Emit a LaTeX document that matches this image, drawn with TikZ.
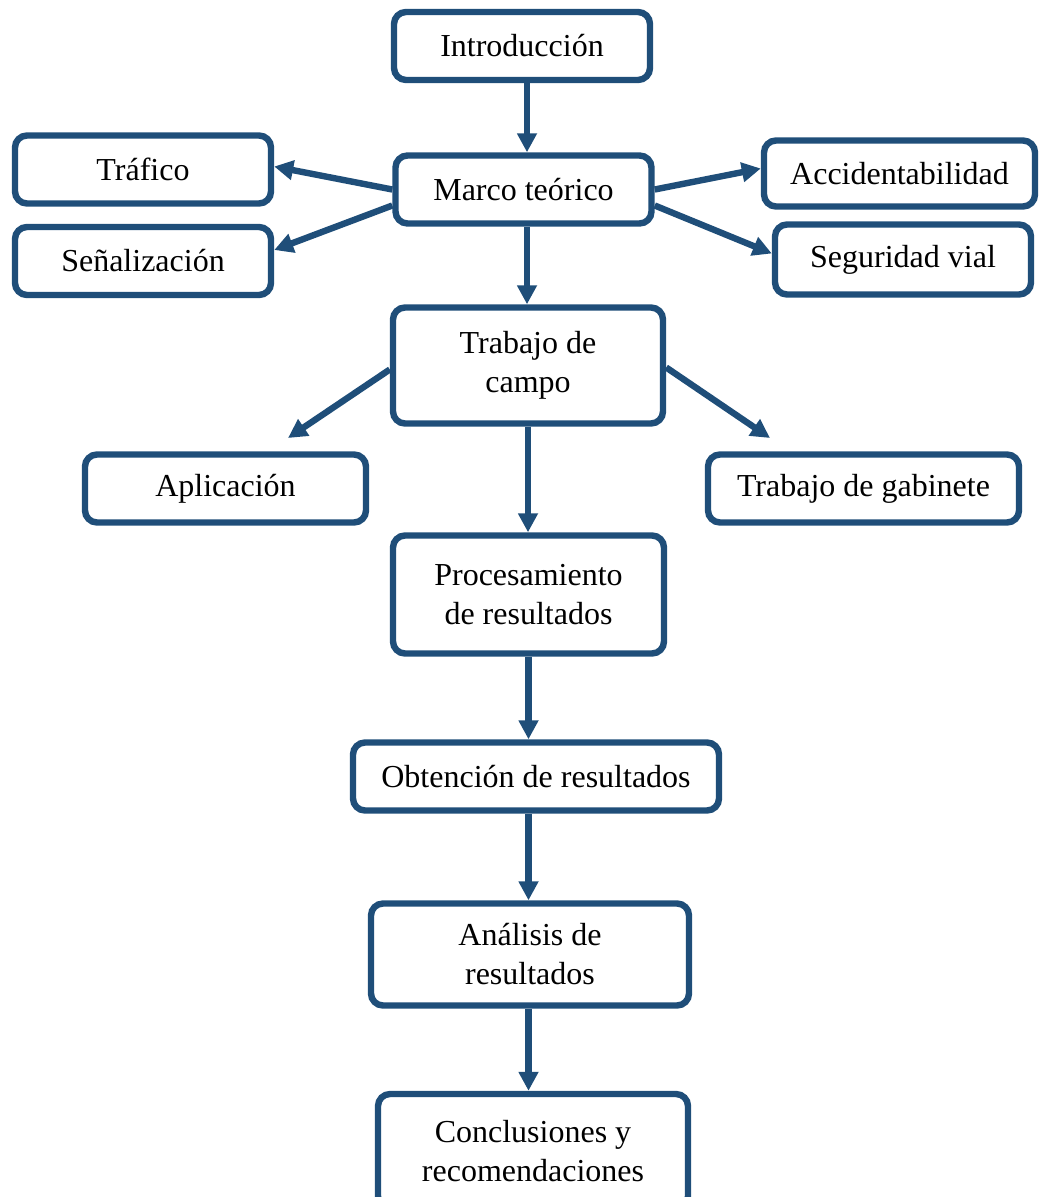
\documentclass[tikz,border=0pt]{standalone}
\usepackage{fontspec}
\setmainfont{Liberation Serif}
\usepackage{xcolor}
\usetikzlibrary{arrows.meta}
\definecolor{boxblue}{RGB}{31,78,121}

\begin{document}
\begin{tikzpicture}[
	  x=0.5pt, y=-0.5pt,
	  %style for arrows
	  arrw/.style={line width=3.2pt, draw=boxblue, -{Triangle[length=9.5pt,width=9.5pt]}},
      % style for boxes
      box/.style={rectangle, rounded corners=6pt, line width=3.2pt, draw=boxblue, fill=white,
                  minimum width=128pt, minimum height=34pt, inner sep=2pt, align=center,
                  font=\fontsize{16}{19.5}\selectfont}]

      \useasboundingbox (0,0) rectangle (1039,1197);

      %nodes
      \node[box](intro) at (522,46){Introducción};
      \node[box](marco) at (523.5,189.5){Marco teórico};
      \node[box](trafico) at (143,169.5){Tráfico};
      \node[box](senal) at (143,261){Señalización};
      \node[box,minimum width=135.5pt,minimum height=33pt](accid) at (899.5,173.5){Accidentabilidad};
      \node[box,minimum height=35pt](segur) at (903,259.5){Seguridad vial};
      \node[box,minimum width=135pt,minimum height=58pt](campo) at (528,365.5){Trabajo de\\campo};
      \node[box,minimum width=140.5pt](aplic) at (225.5,488.5){Aplicación};
      \node[box,minimum width=155.5pt](gabin) at (863.5,488.5){Trabajo de gabinete};
      \node[box,minimum width=135.5pt,minimum height=59pt](proces) at (528.5,594.5){Procesamiento\\de resultados};
      \node[box,minimum width=183pt](obten) at (536,776.5){Obtención de resultados};
      \node[box,minimum width=159pt,minimum height=51pt](analis) at (530,954.5){Análisis de\\resultados};
      \node[box,minimum width=155pt,minimum height=57pt](concl) at (533,1151){Conclusiones y\\recomendaciones};

      %free arrow ends
      \coordinate (aplictip) at (288,438);
      \coordinate (gabintip) at (770,438);

      %edges
      \draw[arrw]([xshift=2.5pt]intro.south) -- ([xshift=2.5pt]intro.south |- marco.north);
      \draw[arrw](marco.west) -- ([yshift=1.5pt]trafico.east);
      \draw[arrw]([yshift=-8pt]marco.west) -- ([yshift=5.5pt]senal.east);
      \draw[arrw](marco.east) -- ([yshift=2.5pt]accid.west);
      \draw[arrw]([yshift=-8pt]marco.east) -- ([yshift=3pt]segur.west);
      \draw[arrw]([xshift=1.75pt]marco.south) -- ([xshift=1.75pt]marco.south |- campo.north);
      \draw[arrw]([yshift=-2pt]campo.west) -- (aplictip);
      \draw[arrw]([yshift=-1pt]campo.east) -- (gabintip);
      \draw[arrw](campo.south) -- (campo.south |- proces.north);
      \draw[arrw](proces.south) -- (proces.south |- obten.north);
      \draw[arrw](proces.south |- obten.south) -- (proces.south |- analis.north);
      \draw[arrw](proces.south |- analis.south) -- (proces.south |- concl.north);
\end{tikzpicture}
\end{document}
